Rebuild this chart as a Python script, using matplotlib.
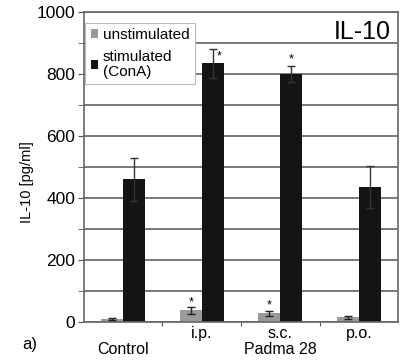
import numpy as np
import matplotlib.pyplot as plt

# data
groups = ['Control', 'i.p.', 's.c.', 'p.o.']
unstim = [10, 38, 28, 15]
unstim_err = [4, 11, 9, 4]
stim = [460, 835, 800, 435]
stim_err = [70, 47, 27, 68]
unstim_sig = [False, True, True, False]
stim_sig = [False, True, True, False]

plt.rcParams['font.family'] = ['Liberation Sans', 'DejaVu Sans']

fig = plt.figure(figsize=(4.03, 3.61), dpi=100)
ax = fig.add_axes([0.208, 0.108, 0.78, 0.859])

x = np.arange(len(groups))
w = 0.28
ax.set_axisbelow(True)
ax.bar(x - w / 2, unstim, w, color='#9a9a9a', zorder=2)
ax.bar(x + w / 2, stim, w, color='#141414', zorder=2)
ax.errorbar(x - w / 2, unstim, yerr=unstim_err, fmt='none', ecolor='#222',
            elinewidth=1, capsize=3, zorder=3)
ax.errorbar(x + w / 2, stim, yerr=stim_err, fmt='none', ecolor='#333',
            elinewidth=1, capsize=3, zorder=3)

for i in range(len(groups)):
    if unstim_sig[i]:
        ax.text(x[i] - w / 2, unstim[i] + unstim_err[i] + 15, '*',
                ha='center', va='center', fontsize=9)
    if stim_sig[i]:
        dx = 0.08 if i == 1 else 0
        dy = -25 if i == 1 else 20
        ax.text(x[i] + w / 2 + dx, stim[i] + stim_err[i] + dy, '*',
                ha='center', va='center', fontsize=9)

ax.set_xlim(-0.5, 3.5)
ax.set_ylim(0, 1000)
ax.set_yticks(range(0, 1001, 200))
ax.set_yticks(range(100, 1000, 200), minor=True)
ax.yaxis.grid(True, which='both', color='#6e6e6e', lw=1.3)
ax.tick_params(axis='y', labelsize=12.5, length=4, color='#555', pad=2)
ax.tick_params(axis='y', which='minor', length=4, color='#555')
ax.set_xticks([0.5, 1.5, 2.5])
ax.set_xticklabels([])
ax.tick_params(axis='x', length=3, color='#555')
for s in ax.spines.values():
    s.set_color('#666')
    s.set_linewidth(1.2)

ax.set_ylabel('IL-10 [pg/ml]', fontsize=10.5)
ax.yaxis.set_label_coords(-0.16, 0.45)

for i, g in enumerate(groups[1:], start=1):
    ax.text(x[i], -14, g, ha='center', va='top', fontsize=11.5)
ax.text(x[0], -66, groups[0], ha='center', va='top', fontsize=11.5)
ax.text(2.0, -66, 'Padma 28', ha='center', va='top', fontsize=11.5)
fig.text(0.055, 0.025, 'a)', fontsize=12, ha='left', va='bottom')

ax.text(0.975, 0.975, 'IL-10', transform=ax.transAxes, ha='right', va='top',
        fontsize=18)

leg = ax.legend(['unstimulated', 'stimulated\n(ConA)'], loc='upper left',
                bbox_to_anchor=(0.0, 0.97), fontsize=11, frameon=True,
                fancybox=False, edgecolor='#bbb', facecolor='white',
                framealpha=1, handlelength=0.5, handleheight=0.5,
                handletextpad=0.3, borderpad=0.35, labelspacing=0.55,
                borderaxespad=0.1)
leg.get_frame().set_linewidth(0.8)
for t in leg.get_texts():
    t.set_linespacing(1.05)

fig.savefig('out.png', dpi=100)
